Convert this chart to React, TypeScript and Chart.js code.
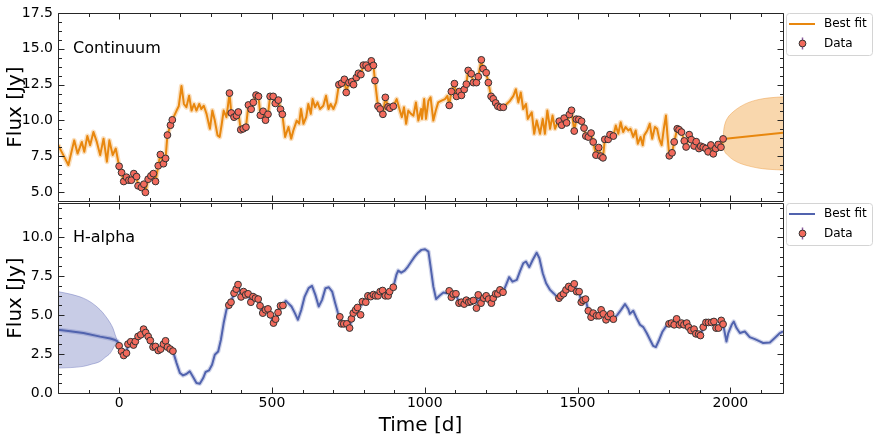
import { useEffect, useRef } from 'react';
import { Chart, registerables } from 'chart.js';
Chart.register(...registerables);

// ---------- Continuum data ----------
const contDataT = [0, 8, 15, 24, 32, 40, 48, 57, 62, 73, 81, 86, 95, 104, 112, 119, 128, 135, 145, 152, 158, 168, 174,
  361, 367, 376, 384, 390, 398, 406, 415, 423, 432, 439, 448, 456, 462, 471, 479, 487, 494, 504, 511, 521, 528, 534,
  719, 728, 737, 743, 752, 761, 767, 776, 783, 791, 799, 808, 815, 825, 832, 837, 847, 854, 863, 871, 880, 886, 897,
  1080, 1087, 1097, 1104, 1113, 1120, 1129, 1136, 1142, 1152, 1159, 1169, 1175, 1185, 1191, 1201, 1208, 1217, 1224, 1232, 1239, 1247, 1257,
  1440, 1448, 1456, 1464, 1473, 1480, 1489, 1496, 1504, 1513, 1521, 1527, 1535, 1544, 1551, 1560, 1569, 1576, 1583, 1589, 1600, 1606, 1617,
  1800, 1809, 1816, 1826, 1832, 1840, 1849, 1855, 1865, 1872, 1881, 1888, 1897, 1903, 1911, 1920, 1927, 1936, 1944, 1952, 1960, 1969, 1976];
const contDataF = [6.8, 6.36, 5.74, 6.04, 5.83, 5.83, 6.29, 6.08, 5.44, 5.32, 5.55, 4.98, 5.9, 6.13, 6.29, 5.74, 6.84, 7.62, 6.98, 7.35, 8.98, 9.67, 10.04,
  11.91, 10.52, 10.23, 10.34, 10.59, 9.35, 9.42, 9.53, 11.08, 10.78, 11.26, 11.77, 11.68, 10.36, 10.64, 10.02, 10.43, 11.68, 11.68, 11.19, 11.42, 10.78, 10.43,
  12.5, 12.6, 12.87, 11.95, 12.64, 12.71, 12.5, 12.99, 13.29, 13.2, 13.86, 13.86, 13.66, 14.16, 13.84, 12.78, 10.99, 10.8, 10.43, 11.61, 10.94, 10.85, 10.99,
  11.05, 12.02, 12.57, 11.68, 12.02, 11.75, 12.16, 12.53, 13.49, 13.26, 12.64, 12.64, 13.06, 14.23, 13.61, 13.33, 12.64, 11.68, 11.51, 11.22, 10.99, 10.92, 10.92,
  9.95, 9.67, 10.16, 9.83, 10.41, 10.71, 9.26, 10.09, 10.07, 9.95, 9.47, 8.91, 8.84, 9.12, 8.5, 7.58, 8.11, 7.51, 7.39, 8.68, 8.68, 9.01, 8.91,
  7.53, 7.74, 8.5, 9.42, 9.35, 9.19, 8.57, 8.15, 9.01, 8.66, 8.22, 8.52, 8.04, 8.2, 8.13, 8.04, 7.81, 8.29, 7.67, 8.04, 8.32, 8.13, 8.71];

const contFitT = [-200, -183, -166, -147, -136, -122, -114, -104, -95, -84, -73, -62, -51, -40, -32, -21, -11,
  0, 8, 15, 24, 32, 40, 48, 57, 62, 73, 81, 86, 95, 104, 112, 119, 128, 135, 145, 152, 158, 168, 174,
  188, 195, 204, 212, 220, 229, 237, 245, 253, 262, 269, 277, 286, 297, 305, 313, 322, 329, 335, 342, 351, 356,
  361, 367, 376, 384, 390, 398, 406, 415, 423, 432, 439, 448, 456, 462, 471, 479, 487, 494, 504, 511, 521, 528, 534,
  543, 554, 563, 570, 581, 589, 595, 603, 612, 619, 627, 633, 641, 649, 657, 668, 677, 685, 692, 701, 710,
  719, 728, 737, 743, 752, 761, 767, 776, 783, 791, 799, 808, 815, 825, 832, 837, 847, 854, 863, 871, 880, 886, 897,
  908, 917, 925, 932, 939, 946, 955, 963, 971, 979, 988, 991, 998, 1004, 1012, 1019, 1028, 1036, 1044, 1055, 1066, 1074,
  1080, 1087, 1097, 1104, 1113, 1120, 1129, 1136, 1142, 1152, 1159, 1169, 1175, 1185, 1191, 1201, 1208, 1217, 1224, 1232, 1239, 1247, 1257,
  1268, 1279, 1290, 1298, 1306, 1314, 1322, 1331, 1337, 1350, 1358, 1366, 1377, 1386, 1393, 1401, 1410, 1418, 1426, 1433,
  1440, 1448, 1456, 1464, 1473, 1480, 1489, 1496, 1504, 1513, 1521, 1527, 1535, 1544, 1551, 1560, 1569, 1576, 1583, 1589, 1600, 1606, 1617,
  1625, 1633, 1641, 1649, 1657, 1666, 1673, 1682, 1690, 1697, 1706, 1713, 1718, 1728, 1736, 1744, 1753, 1760, 1767, 1775, 1782, 1789, 1794,
  1800, 1809, 1816, 1826, 1832, 1840, 1849, 1855, 1865, 1872, 1881, 1888, 1897, 1903, 1911, 1920, 1927, 1936, 1944, 1952, 1960, 1969, 1976];
const contFitF = [8.3, 7.6, 6.89, 8.61, 7.69, 8.5, 7.81, 8.92, 8.27, 9.19, 8.5, 7.58, 8.73, 7.12, 8.61, 7.58, 8.04,
  6.8, 6.36, 5.74, 6.04, 5.83, 5.83, 6.29, 6.08, 5.44, 5.32, 5.55, 5.0, 5.9, 6.13, 6.29, 5.74, 6.84, 7.62, 6.98, 7.35, 8.98, 9.67, 10.04,
  10.69, 10.99, 12.41, 11.15, 10.92, 11.72, 10.69, 11.15, 10.69, 11.15, 10.8, 11.03, 10.46, 9.42, 10.69, 9.99, 8.96, 8.85, 9.65, 10.69, 10.23, 11.0,
  11.91, 10.52, 10.23, 10.34, 10.59, 9.35, 9.42, 9.53, 11.08, 10.78, 11.26, 11.77, 11.68, 10.36, 10.64, 10.02, 10.43, 11.68, 11.68, 11.19, 11.42, 10.78, 10.43,
  8.85, 9.54, 8.73, 9.3, 9.99, 9.77, 10.8, 9.77, 10.23, 11.15, 10.46, 11.49, 10.92, 11.26, 10.8, 11.03, 11.72, 10.8, 11.15, 10.8, 11.26,
  12.5, 12.6, 12.87, 11.95, 12.64, 12.71, 12.5, 12.99, 13.29, 13.2, 13.86, 13.86, 13.66, 14.16, 13.84, 12.78, 10.99, 10.8, 10.43, 11.61, 10.94, 10.85, 10.99,
  11.49, 10.8, 10.23, 10.92, 9.77, 10.69, 10.46, 10.34, 11.26, 9.99, 10.8, 10.11, 11.49, 10.11, 11.38, 11.61, 9.99, 10.69, 11.26, 11.38, 11.49, 11.72,
  11.05, 12.02, 12.57, 11.68, 12.02, 11.75, 12.16, 12.53, 13.49, 13.26, 12.64, 12.64, 13.06, 14.23, 13.61, 13.33, 12.64, 11.68, 11.51, 11.22, 10.99, 10.92, 10.92,
  11.15, 11.38, 11.72, 12.18, 11.26, 11.95, 10.8, 11.15, 10.11, 10.57, 9.07, 9.99, 9.07, 10.11, 9.07, 10.69, 9.42, 10.34, 9.42, 9.77,
  9.95, 9.67, 10.16, 9.83, 10.41, 10.71, 9.26, 10.09, 10.07, 9.95, 9.47, 8.91, 8.84, 9.12, 8.5, 7.58, 8.11, 7.51, 7.39, 8.68, 8.68, 9.01, 8.91,
  9.65, 9.07, 9.88, 9.19, 9.54, 9.3, 9.42, 8.85, 9.3, 8.38, 8.85, 8.27, 8.96, 9.3, 9.77, 8.73, 9.54, 9.42, 8.73, 8.27, 9.42, 10.34, 8.96,
  7.53, 7.74, 8.5, 9.42, 9.35, 9.19, 8.57, 8.15, 9.01, 8.66, 8.22, 8.52, 8.04, 8.2, 8.13, 8.04, 7.81, 8.29, 7.67, 8.04, 8.32, 8.13, 8.71];

const contExtT = [1976, 2172];
const contExtF = [8.71, 9.14];
const contBandT = [1976, 1978, 1982, 1990, 2009, 2035, 2060, 2090, 2120, 2150, 2172];
const contBandHi = [8.71, 9.3, 9.75, 10.15, 10.6, 11.0, 11.26, 11.45, 11.56, 11.62, 11.65];
const contBandLo = [8.71, 8.1, 7.8, 7.6, 7.25, 6.98, 6.82, 6.68, 6.6, 6.56, 6.54];

// ---------- H-alpha data ----------
const haDataT = [0, 8, 15, 24, 29, 38, 47, 53, 62, 71, 80, 87, 95, 102, 111, 119, 128, 136, 145, 152, 158, 167, 176,
  359, 366, 376, 383, 389, 399, 407, 414, 422, 431, 438, 446, 455, 461, 470, 479, 487, 495, 505, 512, 520, 528, 536,
  722, 727, 735, 745, 754, 760, 766, 774, 780, 790, 796, 807, 814, 823, 832, 839, 847, 854, 862, 871, 880, 885, 897,
  1080, 1087, 1093, 1102, 1112, 1120, 1129, 1136, 1144, 1151, 1159, 1169, 1175, 1184, 1193, 1201, 1209, 1218, 1224, 1232, 1239, 1246, 1256,
  1439, 1445, 1454, 1462, 1471, 1480, 1489, 1497, 1505, 1512, 1518, 1526, 1535, 1544, 1551, 1562, 1570, 1577, 1584, 1593, 1600, 1608, 1617,
  1799, 1807, 1816, 1824, 1833, 1840, 1848, 1857, 1863, 1871, 1881, 1887, 1896, 1902, 1911, 1920, 1928, 1938, 1946, 1953, 1961, 1970, 1976];
const haDataF = [3.03, 2.67, 2.41, 2.56, 3.14, 3.29, 3.08, 3.31, 3.63, 3.74, 4.1, 3.88, 3.63, 3.37, 2.95, 2.99, 2.73, 2.82, 3.14, 3.35, 2.95, 2.82, 2.69,
  5.64, 5.83, 6.41, 6.67, 6.96, 6.17, 6.51, 6.3, 6.37, 5.83, 6.19, 6.09, 6.03, 5.6, 5.13, 5.34, 5.4, 5.02, 4.49, 4.74, 5.17, 5.6, 5.62,
  4.89, 4.44, 4.44, 4.44, 4.17, 4.76, 5.13, 5.34, 5.49, 5.02, 5.87, 5.83, 6.24, 6.19, 6.32, 6.24, 6.24, 6.51, 6.58, 6.24, 6.24, 6.51, 6.79,
  6.56, 6.15, 6.35, 6.37, 5.77, 5.83, 5.71, 5.96, 5.83, 5.87, 5.94, 5.45, 6.3, 5.77, 6.09, 6.24, 6.03, 5.77, 6.09, 6.37, 6.37, 6.62, 6.47,
  6.09, 6.24, 6.37, 6.62, 6.84, 6.73, 7.01, 6.51, 6.51, 5.83, 5.96, 6.03, 5.28, 4.87, 5.13, 4.96, 4.96, 5.34, 5.08, 4.7, 4.91, 5.08, 4.74,
  4.44, 4.49, 4.38, 4.76, 4.38, 4.49, 4.38, 4.49, 4.23, 4.01, 4.1, 3.8, 3.78, 3.69, 4.23, 4.53, 4.53, 4.53, 4.59, 4.17, 4.17, 4.66, 4.42];

const haFitT = [-200, -160, -117, -62, -29, -13, -5,
  0, 8, 15, 24, 29, 38, 47, 53, 62, 71, 80, 87, 95, 102, 111, 119, 128, 136, 145, 152, 158, 167, 176,
  188, 199, 209, 220, 231, 242, 253, 264, 275, 283, 294, 304, 313, 324, 333, 342, 351,
  359, 366, 376, 383, 389, 399, 407, 414, 422, 431, 438, 446, 455, 461, 470, 479, 487, 495, 505, 512, 520, 528, 536,
  545, 553, 564, 575, 585, 596, 607, 620, 631, 642, 653, 664, 675, 686, 697, 707, 716,
  722, 727, 735, 745, 754, 760, 766, 774, 780, 790, 796, 807, 814, 823, 832, 839, 847, 854, 862, 871, 880, 885, 897,
  907, 913, 923, 934, 945, 956, 967, 978, 989, 1001, 1012, 1019, 1028, 1037, 1048, 1061, 1072,
  1080, 1087, 1093, 1102, 1112, 1120, 1129, 1136, 1144, 1151, 1159, 1169, 1175, 1184, 1193, 1201, 1209, 1218, 1224, 1232, 1239, 1246, 1256,
  1266, 1276, 1287, 1301, 1311, 1322, 1331, 1342, 1353, 1366, 1375, 1386, 1397, 1410, 1421, 1432,
  1439, 1445, 1454, 1462, 1471, 1480, 1489, 1497, 1505, 1512, 1518, 1526, 1535, 1544, 1551, 1562, 1570, 1577, 1584, 1593, 1600, 1608, 1617,
  1630, 1642, 1655, 1666, 1671, 1682, 1693, 1704, 1715, 1726, 1737, 1747, 1756, 1767, 1778, 1789,
  1799, 1807, 1816, 1824, 1833, 1840, 1848, 1857, 1863, 1871, 1881, 1887, 1896, 1902, 1911, 1920, 1928, 1938, 1946, 1953, 1961, 1970, 1976,
  1987, 1993, 2004, 2011, 2020, 2031, 2047, 2063, 2080, 2096, 2107, 2129, 2145, 2162, 2172];
const haFitF = [4.06, 3.97, 3.85, 3.62, 3.5, 3.4, 3.31,
  3.03, 2.67, 2.41, 2.56, 3.14, 3.29, 3.08, 3.31, 3.63, 3.74, 4.1, 3.88, 3.63, 3.37, 2.95, 2.99, 2.73, 2.82, 3.14, 3.35, 2.95, 2.82, 2.69,
  1.92, 1.28, 1.13, 1.22, 1.39, 1.03, 0.64, 0.6, 0.96, 1.35, 1.45, 1.81, 2.46, 2.67, 3.42, 4.49, 5.34,
  5.64, 5.83, 6.41, 6.67, 6.96, 6.17, 6.51, 6.3, 6.37, 5.83, 6.19, 6.09, 6.03, 5.6, 5.13, 5.34, 5.4, 5.02, 4.49, 4.74, 5.17, 5.6, 5.62,
  5.92, 5.77, 5.55, 5.13, 4.7, 5.34, 6.19, 6.73, 6.88, 6.3, 5.55, 5.98, 6.73, 6.79, 6.51, 5.77, 5.13,
  4.89, 4.44, 4.44, 4.44, 4.17, 4.76, 5.13, 5.34, 5.49, 5.6, 5.87, 5.83, 6.24, 6.19, 6.32, 6.24, 6.24, 6.51, 6.58, 6.24, 6.24, 6.51, 6.79,
  7.58, 7.86, 7.73, 7.86, 8.12, 8.44, 8.76, 9.01, 9.19, 9.23, 9.08, 8.12, 6.83, 6.03, 6.24, 6.45, 6.41,
  6.56, 6.15, 6.35, 6.37, 5.77, 5.83, 5.71, 5.96, 5.83, 5.87, 5.94, 5.8, 6.3, 5.77, 6.09, 6.24, 6.03, 5.77, 6.09, 6.37, 6.37, 6.62, 6.47,
  6.94, 7.44, 7.15, 7.26, 7.79, 8.33, 8.44, 8.08, 8.54, 9.01, 8.65, 7.69, 7.05, 6.62, 6.41, 6.19,
  6.09, 6.24, 6.37, 6.62, 6.84, 6.73, 7.01, 6.51, 6.51, 5.83, 5.96, 6.03, 5.28, 4.87, 5.13, 4.96, 4.96, 5.34, 5.08, 4.7, 4.91, 5.08, 4.74,
  5.02, 5.34, 5.71, 5.38, 5.08, 5.28, 4.81, 4.38, 4.23, 3.85, 3.42, 3.03, 2.95, 3.42, 3.95, 4.27,
  4.44, 4.49, 4.38, 4.76, 4.38, 4.49, 4.38, 4.49, 4.23, 4.01, 4.1, 3.8, 3.78, 3.69, 4.23, 4.53, 4.53, 4.53, 4.59, 4.17, 4.17, 4.66, 4.42,
  3.31, 3.85, 4.38, 4.59, 4.17, 3.85, 3.95, 3.59, 3.46, 3.31, 3.21, 3.24, 3.53, 3.85, 3.95];

const haBandT = [-200, -160, -117, -90, -62, -45, -29, -20, -13, -5];
const haBandHi = [6.51, 6.35, 6.09, 5.8, 5.34, 4.95, 4.49, 4.15, 3.74, 3.31];
const haBandLo = [1.6, 1.63, 1.71, 1.85, 2.03, 2.3, 2.56, 2.85, 3.1, 3.31];

// ---------- axes ----------
const xTicks = [0, 500, 1000, 1500, 2000];
const contYTicks = [5, 7.5, 10, 12.5, 15, 17.5];
const haYTicks = [0, 2.5, 5, 7.5, 10];

const FONT = "'DejaVu Sans', 'Liberation Sans', sans-serif";
const X_MIN = -200;
const X_MAX = 2172;

function pts(t: number[], v: number[]) {
  return t.map((x, i) => ({ x, y: v[i] }));
}

interface PanelStyle {
  label: string;
  labelBaseline: number;
  legendTop: number;
  lineColor: string;
  yMin: number;
  yMax: number;
  yTicks: number[];
  yMinorStep: number;
}

function decorPlugin(p: PanelStyle) {
  return {
    id: 'decor',
    afterDatasetsDraw(chart: any) {
      const { ctx, chartArea: a } = chart;
      const xs = chart.scales.x;
      const ys = chart.scales.y;
      const L = Math.round(a.left) + 0.5, R = Math.round(a.right) + 0.5;
      const T = Math.round(a.top) + 0.5, B = Math.round(a.bottom) + 0.5;
      ctx.save();
      ctx.strokeStyle = '#262626';
      ctx.lineWidth = 1;
      ctx.beginPath();
      ctx.rect(L, T, R - L, B - T);
      ctx.stroke();
      ctx.beginPath();
      for (let v = -200; v <= X_MAX; v += 100) {
        const major = xTicks.includes(v);
        const len = major ? 6 : 3.5;
        const px = Math.round(xs.getPixelForValue(v)) + 0.5;
        ctx.moveTo(px, B); ctx.lineTo(px, B - len);
        ctx.moveTo(px, T); ctx.lineTo(px, T + len);
      }
      for (let k = 0; ; k++) {
        const v = p.yTicks[0] + k * p.yMinorStep;
        if (v > p.yMax + 1e-6) break;
        const major = k % 4 === 0;
        const len = major ? 6 : 3.5;
        const py = Math.round(ys.getPixelForValue(v)) + 0.5;
        ctx.moveTo(L, py); ctx.lineTo(L + len, py);
        ctx.moveTo(R, py); ctx.lineTo(R - len, py);
      }
      for (let k = 1; ; k++) {
        const v = p.yTicks[0] - k * p.yMinorStep;
        if (v < p.yMin) break;
        const py = Math.round(ys.getPixelForValue(v)) + 0.5;
        ctx.moveTo(L, py); ctx.lineTo(L + 3.5, py);
        ctx.moveTo(R, py); ctx.lineTo(R - 3.5, py);
      }
      ctx.stroke();
      ctx.restore();
    },
    afterDraw(chart: any) {
      const { ctx } = chart;
      ctx.save();
      // panel label
      ctx.fillStyle = '#000';
      ctx.font = `16px ${FONT}`;
      ctx.textBaseline = 'alphabetic';
      ctx.textAlign = 'left';
      ctx.fillText(p.label, 73, p.labelBaseline);
      // legend box
      const bx = 786.5, by = p.legendTop + 0.5, bw = 86, bh = 42;
      ctx.beginPath();
      (ctx as any).roundRect(bx, by, bw, bh, 3);
      ctx.fillStyle = 'rgba(255,255,255,0.85)';
      ctx.fill();
      ctx.strokeStyle = '#d4d4d4';
      ctx.lineWidth = 1;
      ctx.stroke();
      const y1 = p.legendTop + 11;
      const y2 = p.legendTop + 30.5;
      ctx.beginPath();
      ctx.moveTo(789, y1); ctx.lineTo(815, y1);
      ctx.strokeStyle = p.lineColor;
      ctx.lineWidth = 2;
      ctx.stroke();
      ctx.beginPath();
      ctx.moveTo(802.5, y2 - 6); ctx.lineTo(802.5, y2 + 6);
      ctx.strokeStyle = '#8c5c9e';
      ctx.lineWidth = 1.5;
      ctx.stroke();
      ctx.beginPath();
      ctx.arc(802.5, y2, 3.4, 0, Math.PI * 2);
      ctx.fillStyle = '#f26a5c';
      ctx.fill();
      ctx.strokeStyle = '#333';
      ctx.lineWidth = 1;
      ctx.stroke();
      ctx.fillStyle = '#000';
      ctx.font = `12px ${FONT}`;
      ctx.textBaseline = 'middle';
      ctx.fillText('Best fit', 824, y1);
      ctx.fillText('Data', 824, y2);
      ctx.restore();
    },
  };
}

function noPad(s: any) {
  s.paddingTop = 0;
  s.paddingBottom = 0;
  s.paddingLeft = 0;
  s.paddingRight = 0;
}

function makeConfig(
  p: PanelStyle,
  datasets: any[],
  showX: boolean,
  padTop: number,
  xHeight: number,
) {
  return {
    type: 'line' as const,
    data: { datasets },
    options: {
      responsive: false,
      animation: false as const,
      events: [] as any[],
      layout: { padding: { left: 0, right: 95, top: padTop, bottom: 0 } },
      plugins: { legend: { display: false }, tooltip: { enabled: false } },
      scales: {
        x: {
          type: 'linear' as const,
          min: X_MIN,
          max: X_MAX,
          grid: { display: false, drawTicks: false },
          border: { display: false },
          afterBuildTicks: (s: any) => { s.ticks = xTicks.map((v) => ({ value: v })); },
          afterFit: (s: any) => { s.height = xHeight; noPad(s); },
          ticks: {
            display: showX,
            autoSkip: false,
            maxRotation: 0,
            padding: 2,
            color: '#000',
            font: { family: FONT, size: 14 },
            callback: (v: any) => String(v),
          },
          title: {
            display: showX,
            text: 'Time [d]',
            color: '#000',
            font: { family: FONT, size: 20 },
            padding: { top: 0, bottom: 4 },
          },
        },
        y: {
          type: 'linear' as const,
          min: p.yMin,
          max: p.yMax,
          grid: { display: false, drawTicks: false },
          border: { display: false },
          afterBuildTicks: (s: any) => { s.ticks = p.yTicks.map((v) => ({ value: v })); },
          afterFit: (s: any) => { s.width = 58; noPad(s); },
          ticks: {
            padding: 5,
            color: '#000',
            font: { family: FONT, size: 14 },
            callback: (v: any) => Number(v).toFixed(1),
          },
          title: {
            display: true,
            text: 'Flux [Jy]',
            color: '#000',
            font: { family: FONT, size: 20 },
            padding: { top: 4, bottom: 0 },
          },
        },
      },
    },
    plugins: [decorPlugin(p)],
  };
}

function panelDatasets(
  dataT: number[], dataF: number[], fitT: number[], fitF: number[],
  bandT: number[], bandHi: number[], bandLo: number[],
  lineColor: string, haloColor: string, haloWidth: number, bandFill: string, bandEdge: string,
  extT?: number[], extF?: number[],
) {
  const ds: any[] = [
    {
      label: 'Data',
      data: pts(dataT, dataF),
      showLine: false,
      pointRadius: 3.4,
      pointBorderWidth: 1,
      pointBackgroundColor: '#f26a5c',
      pointBorderColor: '#333333',
      order: 0,
    },
    {
      label: 'Best fit',
      data: pts(fitT, fitF),
      borderColor: lineColor,
      borderWidth: 2,
      borderJoinStyle: 'round',
      pointRadius: 0,
      fill: false,
      order: 1,
    },
    {
      label: 'fit band',
      data: pts(fitT, fitF),
      borderColor: haloColor,
      borderWidth: haloWidth,
      borderJoinStyle: 'round',
      pointRadius: 0,
      fill: false,
      order: 2,
    },
    {
      label: 'band hi',
      data: pts(bandT, bandHi),
      borderColor: bandEdge,
      borderWidth: 1,
      backgroundColor: bandFill,
      cubicInterpolationMode: 'monotone',
      pointRadius: 0,
      fill: '+1',
      order: 3,
    },
    {
      label: 'band lo',
      data: pts(bandT, bandLo),
      borderColor: bandEdge,
      borderWidth: 1,
      cubicInterpolationMode: 'monotone',
      pointRadius: 0,
      fill: false,
      order: 3,
    },
  ];
  if (extT && extF) {
    ds.push({
      label: 'extrapolation',
      data: pts(extT, extF),
      borderColor: lineColor,
      borderWidth: 2,
      pointRadius: 0,
      fill: false,
      order: 1,
    });
  }
  return ds;
}

const ORANGE = '#e8870e';
const BLUE = '#5163ae';

export default function App() {
  const topRef = useRef<HTMLCanvasElement>(null);
  const botRef = useRef<HTMLCanvasElement>(null);

  useEffect(() => {
    const topStyle: PanelStyle = {
      label: 'Continuum', labelBaseline: 52.5, legendTop: 13, lineColor: ORANGE,
      yMin: 4.378, yMax: 17.5, yTicks: contYTicks, yMinorStep: 0.625,
    };
    const botStyle: PanelStyle = {
      label: 'H-alpha', labelBaseline: 44.3, legendTop: 5, lineColor: BLUE,
      yMin: 0, yMax: 12.2, yTicks: haYTicks, yMinorStep: 0.625,
    };
    const topDs = panelDatasets(contDataT, contDataF, contFitT, contFitF, contBandT, contBandHi, contBandLo,
      ORANGE, 'rgba(240,150,40,0.3)', 5, 'rgba(240,160,60,0.42)', 'rgba(232,140,40,0.4)', contExtT, contExtF);
    const botDs = panelDatasets(haDataT, haDataF, haFitT, haFitF, haBandT, haBandHi, haBandLo,
      BLUE, 'rgba(90,105,180,0.28)', 4.5, 'rgba(110,120,190,0.38)', 'rgba(90,100,180,0.4)');
    const c1 = new Chart(topRef.current as HTMLCanvasElement, makeConfig(topStyle, topDs, false, 13, 3) as any);
    const c2 = new Chart(botRef.current as HTMLCanvasElement, makeConfig(botStyle, botDs, true, 5, 49) as any);
    return () => { c1.destroy(); c2.destroy(); };
  }, []);

  return (
    <div style={{ position: 'fixed', left: 0, top: 0, width: 878, height: 442, background: '#fff' }}>
      <canvas ref={topRef} width={878} height={206}
        style={{ position: 'absolute', left: 0, top: 0, width: 878, height: 206 }} />
      <canvas ref={botRef} width={878} height={244}
        style={{ position: 'absolute', left: 0, top: 198, width: 878, height: 244 }} />
    </div>
  );
}
